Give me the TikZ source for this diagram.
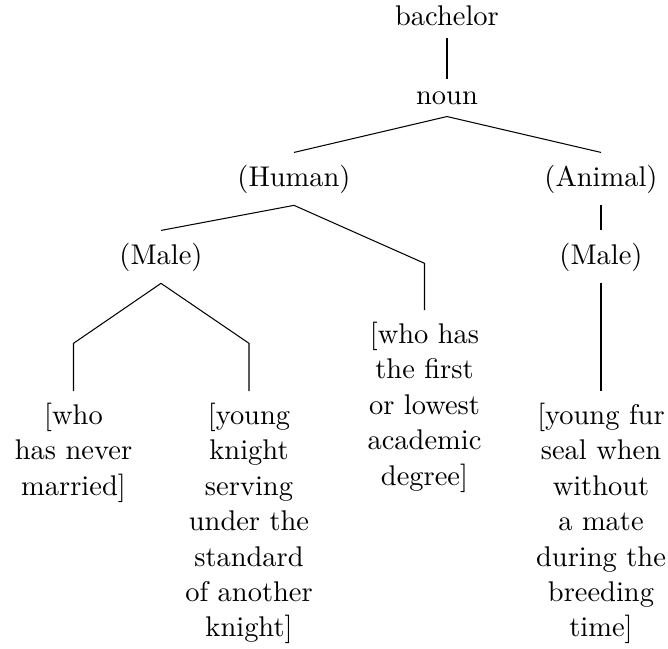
\documentclass[11pt,tikz,border=0pt]{standalone}
\begin{document}
\begin{tikzpicture}[x=0.3846pt, y=-0.3846pt,
  every node/.style={inner xsep=3.33pt, inner ysep=4.5pt},
  lex/.style={anchor=base},
  leaf/.style={anchor=north, align=center},
  branch/.style={line width=0.4pt, line join=miter}]
\useasboundingbox (0,0) rectangle (668,648);

% inner nodes (placed by baseline)
\node[lex] (bachelor) at (447,25.5) {bachelor};
\node[lex] (noun)     at (447,104)  {noun};
\node[lex] (human)    at (294,186)  {(Human)};
\node[lex] (animal)   at (601,186)  {(Animal)};
\node[lex] (maleH)    at (161,264)  {(Male)};
\node[lex] (maleA)    at (601,264)  {(Male)};

% glosses (placed by their top edge)
\node[leaf] (never)   at (73.5,391) {[who\\has never\\married]};
\node[leaf] (knight)  at (249,391)  {[young\\knight\\serving\\under the\\standard\\of another\\knight]};
\node[leaf] (degree)  at (424.5,310) {[who has\\the first\\or lowest\\academic\\degree]};
\node[leaf] (seal)    at (601,391)  {[young fur\\seal when\\without\\a mate\\during the\\breeding\\time]};

% bends above the glosses
\coordinate (bendNever)  at (73.5,343.3);
\coordinate (bendKnight) at (249,343.3);
\coordinate (bendDegree) at (424.5,263.3);

% branches
\draw[branch] (bachelor.south) -- (noun.north);
\draw[branch] (noun.south) -- (human.north);
\draw[branch] (noun.south) -- (animal.north);
\draw[branch] (human.south) -- (maleH.north);
\draw[branch] (human.south) -- (bendDegree) -- (degree.north);
\draw[branch] (maleH.south) -- (bendNever) -- (never.north);
\draw[branch] (maleH.south) -- (bendKnight) -- (knight.north);
\draw[branch] (animal.south) -- (maleA.north);
\draw[branch] (maleA.south) -- (seal.north);
\end{tikzpicture}
\end{document}
